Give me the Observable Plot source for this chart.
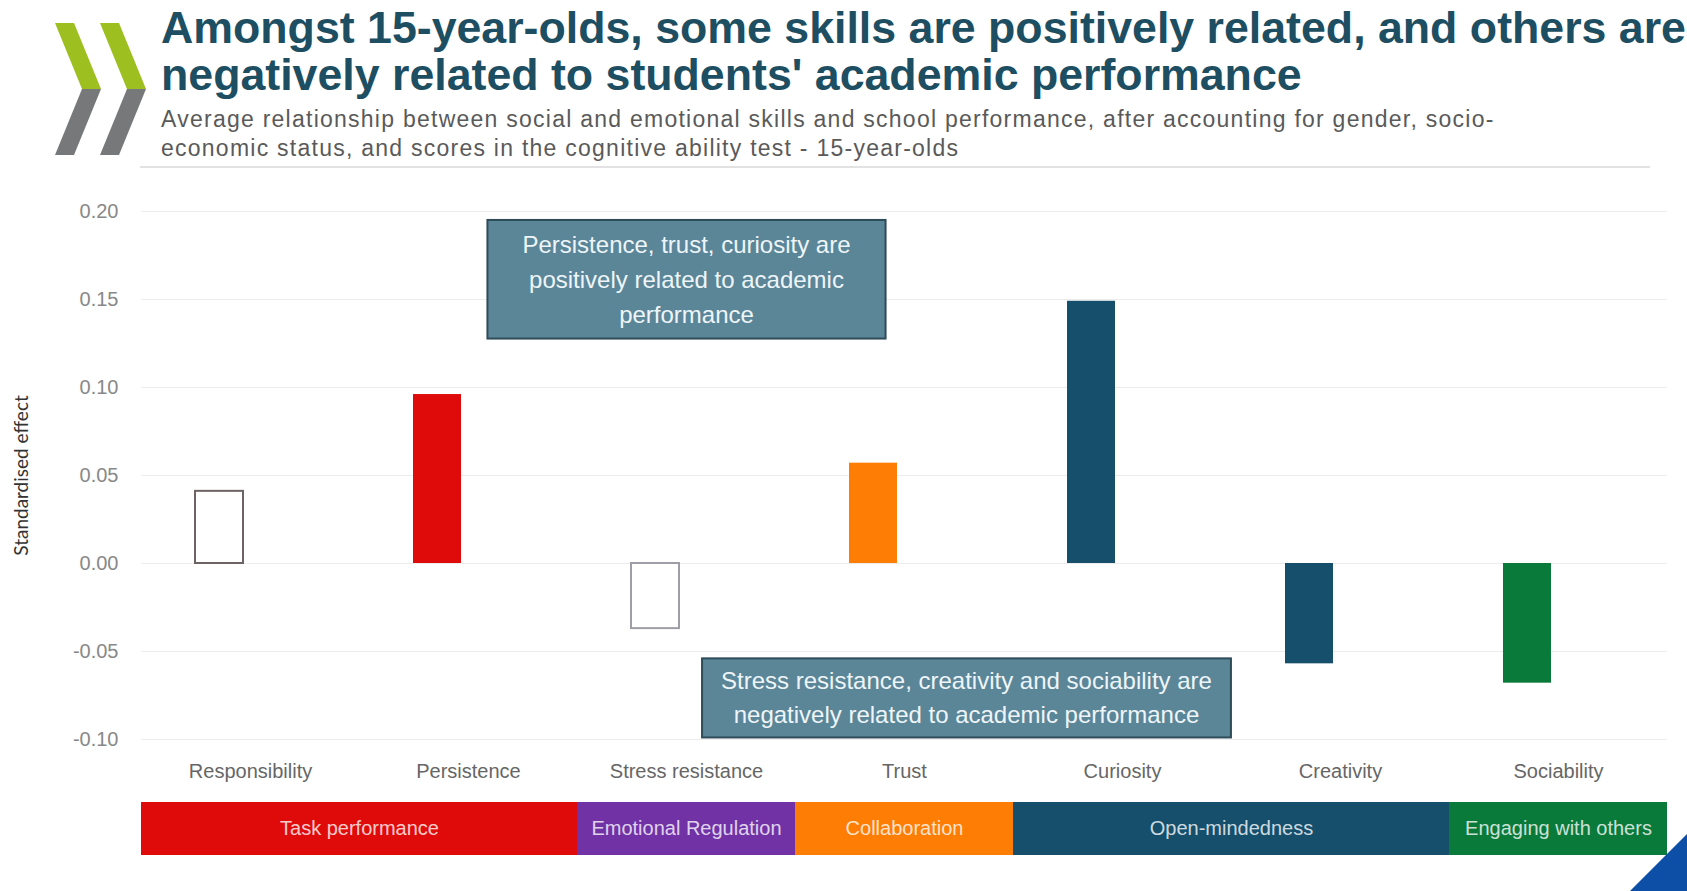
<!DOCTYPE html>
<html>
<head>
<meta charset="utf-8">
<script src="https://cdn.jsdelivr.net/npm/d3@7"></script>
<script src="https://cdn.jsdelivr.net/npm/@observablehq/plot@0.6"></script>
<style>
  html, body { margin: 0; padding: 0; background: #fff; }
  body { width: 1687px; height: 891px; overflow: hidden; position: relative; font-family: "Liberation Sans", Arial, sans-serif; }
  #header { position: relative; height: 175px; }
  #logo { position: absolute; left: 0; top: 0; }
  #title { position: absolute; left: 161px; top: 4px; font-size: 44.7px; line-height: 47px; font-weight: bold; color: #1d4e61; white-space: nowrap; }
  #subtitle { position: absolute; left: 161px; top: 105px; font-size: 23px; letter-spacing: 1.25px; line-height: 29px; color: #5a5a5a; white-space: nowrap; }
  #rule { position: absolute; left: 140px; top: 166px; width: 1510px; border-top: 2px solid #e2e2e2; }
  #chart svg, #groups svg { display: block; }
  #corner { position: absolute; right: 0; bottom: 0; }
</style>
</head>
<body>
<div id="header">
  <svg id="logo" width="160" height="170">
    <polygon points="55,23 74,23 101,89 82,89" fill="#9dbf1f"/>
    <polygon points="82,89 101,89 74,155 55,155" fill="#76787a"/>
    <polygon points="100,23 119,23 146,89 127,89" fill="#9dbf1f"/>
    <polygon points="127,89 146,89 119,155 100,155" fill="#76787a"/>
  </svg>
  <div id="title">Amongst 15-year-olds, some skills are positively related, and others are<br>negatively related to students' academic performance</div>
  <div id="subtitle">Average relationship between social and emotional skills and school performance, after accounting for gender, socio-<br>economic status, and scores in the cognitive ability test - 15-year-olds</div>
  <div id="rule"></div>
</div>
<div id="chart"></div>
<div id="groups"></div>
<svg id="corner" width="58" height="58">
  <polygon points="58,1 58,58 1,58" fill="#0d4fa6"/>
</svg>
<script>
// ---- data ----
const skills = ["Responsibility", "Persistence", "Stress resistance", "Trust", "Curiosity", "Creativity", "Sociability"];
const effects = [0.041, 0.096, -0.037, 0.057, 0.149, -0.057, -0.068];
const significant = [false, true, false, true, true, true, true];
const skillDomain = ["Task performance", "Task performance", "Emotional Regulation", "Collaboration", "Open-mindedness", "Open-mindedness", "Engaging with others"];
const domains = ["Task performance", "Emotional Regulation", "Collaboration", "Open-mindedness", "Engaging with others"];
const domainColors = ["#df0b0b", "#7132a6", "#fd7d05", "#154f6c", "#0a7a3a"];
const yTicks = [-0.10, -0.05, 0.00, 0.05, 0.10, 0.15, 0.20];
const annotationTexts = [
  "Persistence, trust, curiosity are\npositively related to academic\nperformance",
  "Stress resistance, creativity and sociability are\nnegatively related to academic performance"
];
const annotationSkill = ["Stress resistance", "Trust"];
const annotationY = [0.163, -0.075];
const yLabel = "Standardised effect";

// ---- derived tables ----
const colorOf = new Map(domains.map((d, i) => [d, domainColors[i]]));
const bars = skills.map((s, i) => ({ skill: s, effect: effects[i], sig: significant[i], domain: skillDomain[i] }));
const groupRows = domains.map(name => {
  const idx = skillDomain.map((d, i) => d === name ? i : -1).filter(i => i >= 0);
  return { name, start: d3.min(idx), end: d3.max(idx) + 1, color: colorOf.get(name) };
});
const annos = annotationTexts.map((t, i) => ({ text: t, skill: annotationSkill[i], y: annotationY[i] }));

const W = 1687;
const font = "Liberation Sans, Arial, sans-serif";

const chart = Plot.plot({
  width: W,
  height: 625,
  marginLeft: 141,
  marginRight: 20,
  marginTop: 36,
  marginBottom: 61,
  style: { fontFamily: font, background: "transparent" },
  x: { type: "band", domain: skills, padding: 0, axis: null },
  y: { domain: [-0.10, 0.20], axis: null },
  color: { type: "identity" },
  marks: [
    Plot.gridY(yTicks, { stroke: "#ececec", strokeOpacity: 1, strokeWidth: 1 }),
    Plot.axisY({ ticks: yTicks, tickFormat: d => d.toFixed(2), tickSize: 0, tickPadding: 23, fontSize: 20, color: "#888888", label: null }),
    Plot.axisX({ tickSize: 0, tickPadding: 24, fontSize: 20, color: "#666666", label: null }),
    Plot.text([yLabel], { frameAnchor: "left", textAnchor: "middle", rotate: -90, dx: -120, fontSize: 19, fill: "#333333", fontFamily: "Lato, sans-serif" }),
    Plot.barY(bars, {
      x: "skill", y: "effect",
      fill: d => d.sig ? colorOf.get(d.domain) : "#ffffff",
      stroke: d => d.sig ? "none" : (d.domain === "Task performance" ? "#6e6363" : "#9f9ea6"),
      strokeWidth: 2,
      insetLeft: 85, insetRight: 85, dx: -31
    }),
    Plot.text([annos[0]], { x: "skill", y: "y", text: "text", fontSize: 24, lineHeight: 1.45, fill: "#eef5f8" }),
    Plot.text([annos[1]], { x: "skill", y: "y", text: "text", fontSize: 24, lineHeight: 1.42, fill: "#eef5f8", dx: 62 })
  ]
});
document.getElementById("chart").appendChild(chart);

// boxes behind annotation texts (matched by their content)
const firstLines = annotationTexts.map(t => t.split("\n")[0]);
chart.querySelectorAll("text").forEach(t => {
  const k = firstLines.findIndex(l => t.textContent.startsWith(l));
  if (k < 0) return;
  const b = t.getBBox();
  const padX = k === 0 ? 35 : 19, padY = k === 0 ? 11 : 9;
  const r = document.createElementNS("http://www.w3.org/2000/svg", "rect");
  r.setAttribute("x", b.x - padX);
  r.setAttribute("y", b.y - padY);
  r.setAttribute("width", b.width + 2 * padX);
  r.setAttribute("height", b.height + 2 * padY);
  r.setAttribute("fill", "#5b8698");
  r.setAttribute("stroke", "#2e4b58");
  r.setAttribute("stroke-width", 2);
  if (t.getAttribute("transform")) r.setAttribute("transform", t.getAttribute("transform"));
  t.parentNode.insertBefore(r, t);
});

const groupsPlot = Plot.plot({
  width: W,
  height: 60,
  marginLeft: 141,
  marginRight: 20,
  marginTop: 2,
  marginBottom: 5,
  style: { fontFamily: font, background: "transparent" },
  x: { domain: [0, skills.length], axis: null },
  color: { type: "identity" },
  marks: [
    Plot.rect(groupRows, { x1: "start", x2: "end", fill: "color" }),
    Plot.text(groupRows, { x: d => (d.start + d.end) / 2, text: "name", fill: "#ffffff", fillOpacity: 0.8, fontSize: 20 })
  ]
});
document.getElementById("groups").appendChild(groupsPlot);
</script>
</body>
</html>
